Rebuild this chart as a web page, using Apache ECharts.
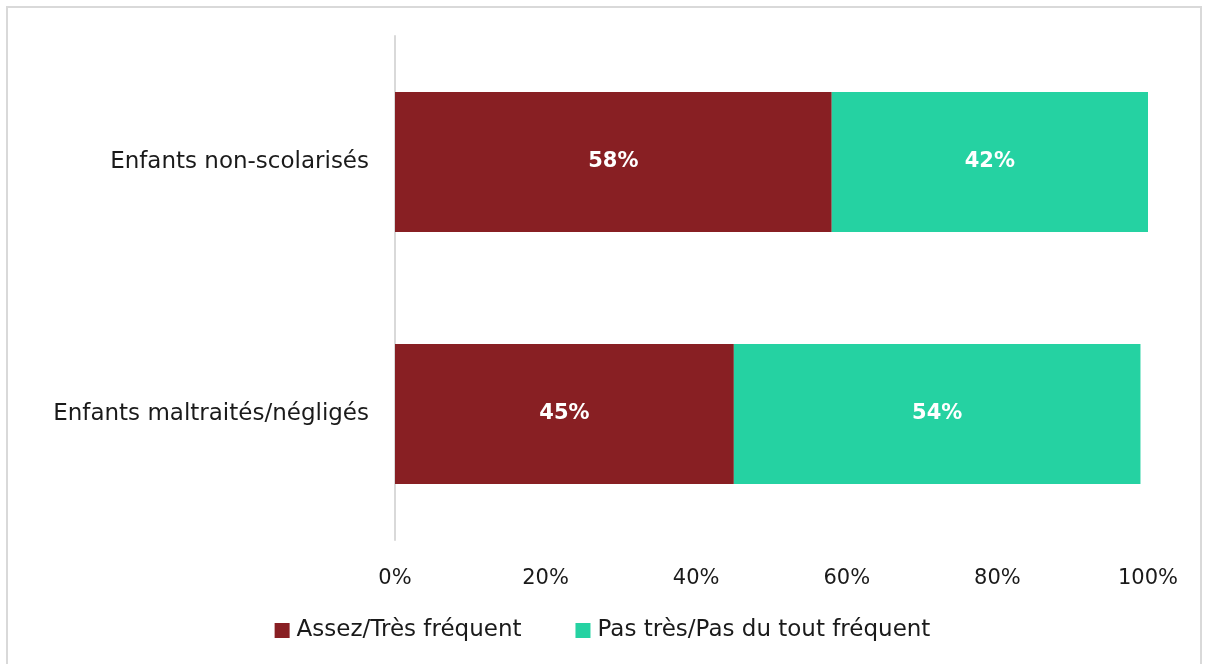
<!DOCTYPE html>
<html>
<head>
<meta charset="utf-8">
<script src="https://cdn.jsdelivr.net/npm/echarts@6/dist/echarts.min.js"></script>
<style>
  html, body { margin: 0; padding: 0; background: #fff; }
  #chart { width: 1205px; height: 664px; }
</style>
</head>
<body>
<div id="chart"></div>
<script>
// categories bottom -> top (yAxis category order)
const categories = ['Enfants maltraités/négligés', 'Enfants non-scolarisés'];
const seriesNames = ['Assez/Très fréquent', 'Pas très/Pas du tout fréquent'];
const frequent = [45, 58];
const notFrequent = [54, 42];
const tickLabels = ['0%', '20%', '40%', '60%', '80%', '100%'];

const font = '"DejaVu Sans", sans-serif';

const myChart = echarts.init(document.getElementById('chart'));

const labelStyle = {
    show: true,
    position: 'inside',
    color: '#fff',
    fontWeight: 'bold',
    fontSize: 21,
    fontFamily: font,
    formatter: p => p.value + '%'
};

myChart.setOption({
    animation: false,
    graphic: [{
        type: 'rect',
        shape: { x: 7, y: 7, width: 1194, height: 700 },
        style: { fill: 'none', stroke: '#d9d9d9', lineWidth: 2 },
        silent: true
    }],
    legend: {
        bottom: 17,
        left: 'center',
        itemWidth: 15,
        itemHeight: 15,
        itemGap: 54,
        icon: 'rect',
        textStyle: { fontSize: 23, color: '#1a1a1a', fontFamily: font, padding: [0, 0, 0, 2] },
        data: seriesNames
    },
    grid: { left: 395, right: 57, top: 36, bottom: 124 },
    xAxis: {
        type: 'value',
        min: 0,
        max: 100,
        interval: 20,
        axisLine: { show: false },
        axisTick: { show: false },
        splitLine: { show: false },
        axisLabel: {
            fontSize: 21,
            color: '#1a1a1a',
            fontFamily: font,
            margin: 28,
            formatter: v => tickLabels[v / 20]
        }
    },
    yAxis: {
        type: 'category',
        data: categories,
        axisLine: { show: true, lineStyle: { color: '#d9d9d9', width: 2 } },
        axisTick: { show: false },
        axisLabel: { fontSize: 23, color: '#1a1a1a', fontFamily: font, margin: 26 }
    },
    series: [
        {
            name: seriesNames[0],
            type: 'bar',
            stack: 'total',
            barWidth: 140,
            itemStyle: { color: '#881f23' },
            label: labelStyle,
            data: frequent
        },
        {
            name: seriesNames[1],
            type: 'bar',
            stack: 'total',
            barWidth: 140,
            itemStyle: { color: '#25d2a2' },
            label: labelStyle,
            data: notFrequent
        }
    ]
});
</script>
</body>
</html>
